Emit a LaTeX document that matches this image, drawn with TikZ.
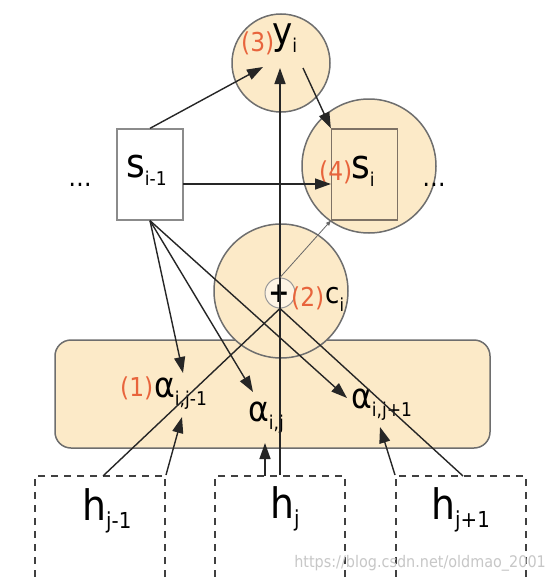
\documentclass[tikz,border=0pt]{standalone}
\usepackage{fontspec}
\setmainfont{DejaVu Sans}[FakeStretch=0.9]
\usepackage{xcolor}
\usetikzlibrary{arrows.meta, positioning, calc}
\definecolor{peach}{RGB}{252,234,200}
\definecolor{numred}{RGB}{232,100,60}
\definecolor{rim}{RGB}{110,110,110}
\tikzset{
  cell/.style={circle, draw=rim, fill=peach, line width=1.5pt, inner sep=0pt},
  stbox/.style={rectangle, draw=rim, line width=1.3pt, minimum width=66pt, minimum height=91pt, inner sep=0pt},
  hbox/.style={rectangle, draw=black!75, line width=2pt, dash pattern=on 7pt off 6pt, minimum width=130pt, minimum height=140pt, inner sep=0pt},
  arr/.style={-{Triangle[length=16pt, width=11pt]}, line width=1.4pt, black!85},
  lin/.style={line width=1.4pt, black!85},
  txt/.style={inner sep=0pt, anchor=base west, font=\fontsize{40}{44}\selectfont},
  num/.style={inner sep=0pt, anchor=base west, text=numred, font=\fontsize{26}{30}\selectfont},
}
\newcommand\sub[2][19]{\raisebox{-8pt}{\fontsize{#1}{#1}\selectfont #2}}

\begin{document}
\begin{tikzpicture}[x=1pt, y=-1pt]
  \useasboundingbox (0,0) rectangle (555,578);
  \fill[white] (0,0) rectangle (555,578);

  % Attention layer
  \node[rectangle, draw=rim, fill=peach, line width=1.5pt, rounded corners=16pt,
        minimum width=435pt, minimum height=108pt] (attn) at (272.5,394) {};

  % Context, output and state cells
  \node[cell, minimum size=134pt] (ci) at (281,291) {};
  \node[cell, minimum size=98pt] (yi) at (281,63) {};
  \node[cell, minimum size=134pt] (si) at (369,166) {};
  \node[stbox, draw=rim!80!brown] (sibox) at (364.5,174.5) {};
  \node[stbox, fill=white, draw=rim!80] (sprev) at (150,174.5) {};
  \node[circle, draw=rim!70, fill=peach!50!white, line width=1pt, minimum size=30pt] (plus) at (280,293) {};

  % Encoder states
  \node[hbox] (hprev) at (100,546) {};
  \node[hbox] (hj) at (280,546) {};
  \node[hbox] (hnext) at (461,546) {};

  % Labels
  \node[num] (n3) at (241,52) {(3)};
  \node[txt, font=\fontsize{38}{42}\selectfont] (ylbl) at (272,45) {y\sub{i}};
  \node[txt] (sprevlbl) at (126,177) {s\sub{i-1}};
  \node[num] (n4) at (319,180) {(4)};
  \node[txt] (silbl) at (351,178) {s\sub{i}};
  \node[inner sep=0pt, font=\fontsize{28}{30}\selectfont\bfseries] (pluslbl) at (279,294) {+};
  \node[num] (n2) at (291,306) {(2)};
  \node[txt, font=\fontsize{29}{32}\selectfont] (cilbl) at (325,303) {c\sub[18]{i}};
  \node[num] (n1) at (120,396) {(1)};
  \node[txt, font=\fontsize{35}{38}\selectfont] (aprev) at (154,397) {α\sub{i,j-1}};
  \node[txt, font=\fontsize{35}{38}\selectfont] (aj) at (248,421) {α\sub{i,j}};
  \node[txt, font=\fontsize{35}{38}\selectfont] (anext) at (351,408) {α\sub{i,j+1}};
  \node[txt, font=\fontsize{42}{46}\selectfont] (hprevlbl) at (82,520) {h\sub[22]{j-1}};
  \node[txt, font=\fontsize{42}{46}\selectfont] (hjlbl) at (270,518) {h\sub[22]{j}};
  \node[txt, font=\fontsize{42}{46}\selectfont] (hnextlbl) at (431,519) {h\sub[22]{j+1}};
  \node[inner sep=0pt, anchor=base, font=\fontsize{26}{30}\selectfont] (ldots) at (80,186) {\ldots};
  \node[inner sep=0pt, anchor=base, font=\fontsize{26}{30}\selectfont] (rdots) at (434,186) {\ldots};
  \node[inner sep=0pt, anchor=base east, text=black!22, font=\fontsize{16}{18}\selectfont] (mark) at (546,567) {https://blog.csdn.net/oldmao\_2001};

  % Arrow ends
  \coordinate (yin) at (263,67);
  \coordinate (ytop) at (280,68);
  \coordinate (yout) at (303,68);
  \coordinate (sout) at (183,184);
  \coordinate (sin) at (331,184);
  \coordinate (aprevtip) at (183,373);
  \coordinate (ajtip) at (253,392);
  \coordinate (anexttip) at (347,398);
  \coordinate (aprevbot) at (182,417);
  \coordinate (ajbot) at (265,443);
  \coordinate (anextbot) at (380,427);
  \coordinate (hjarr) at (265,476);
  \coordinate (hprevl) at (103,476);
  \coordinate (hnextr) at (463,476);

  % Connections
  \draw[arr] (sprev.north) -- (yin);
  \draw[arr] (hj.north) -- (ytop);
  \draw[arr] (yout) -- (sibox.north west);
  \draw[arr] (sout) -- (sin);
  \draw[-{Triangle[length=5pt, width=4pt]}, line width=0.8pt, black!60] (plus.north) -- (sibox.south west);
  \draw[arr] (sprev.south) -- (aprevtip);
  \draw[arr] (sprev.south) -- (ajtip);
  \draw[arr] (sprev.south) -- (anexttip);
  \draw[arr] (hprev.north east) -- (aprevbot);
  \draw[arr] (hjarr) -- (ajbot);
  \draw[arr] (hnext.north west) -- (anextbot);
  \draw[lin] (hprevl) -- (plus.south);
  \draw[lin] (hnextr) -- (plus.south);
\end{tikzpicture}
\end{document}
